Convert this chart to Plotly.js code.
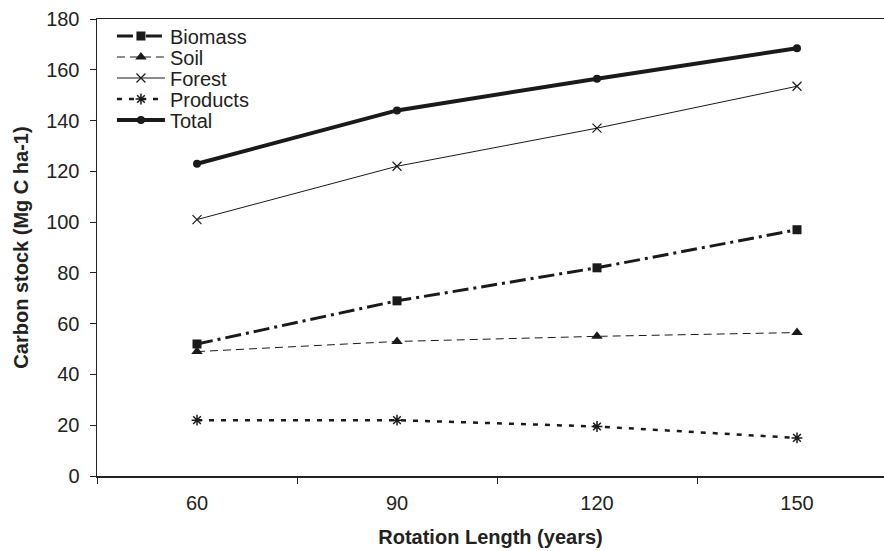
<!DOCTYPE html>
<html>
<head>
<meta charset="utf-8">
<script src="https://cdn.plot.ly/plotly-3.0.1.min.js"></script>
<style>html,body{margin:0;padding:0;background:#fff;}#chart{width:884px;height:551px;}</style>
</head>
<body>
<div id="chart"></div>
<script>
var rotation = ["60", "90", "120", "150"];
var biomass = [52, 69, 82, 97];
var soil = [49, 53, 55, 56.5];
var forest = [101, 122, 137, 153.5];
var products = [22, 22, 19.5, 15];
var total = [123, 144, 156.5, 168.5];

var FONT = "Liberation Sans, Arial, sans-serif";
var INK = "#1a1a1a";
var traces = [
  {name: "Biomass", legend: "legend", x: rotation, y: biomass, mode: "lines+markers",
   line: {color: INK, width: 3, dash: "16px,5px,3px,5px"},
   marker: {symbol: "square", size: 9, color: INK}},
  {name: "Soil", legend: "legend2", x: rotation, y: soil, mode: "lines+markers",
   line: {color: INK, width: 1, dash: "8px,5px"},
   marker: {symbol: "triangle-up", size: 10, color: INK}},
  {name: "Forest", legend: "legend3", x: rotation, y: forest, mode: "lines+markers",
   line: {color: INK, width: 1},
   marker: {symbol: "x-thin-open", size: 9, color: INK, line: {width: 1.2, color: INK}}},
  {name: "Products", legend: "legend4", x: rotation, y: products, mode: "lines+markers",
   line: {color: INK, width: 2.5, dash: "5px,7px"},
   marker: {symbol: "asterisk-open", size: 9, color: INK, line: {width: 1.5, color: INK}}},
  {name: "Total", legend: "legend5", x: rotation, y: total, mode: "lines+markers",
   line: {color: INK, width: 4},
   marker: {symbol: "circle", size: 8, color: INK}}
];

// one legend per entry so that rows can be spaced like the reference
var rowPx = [36, 57, 78, 99, 120];
function legendAt(py) {
  return {x: 0.019, y: (476 - py) / 457, xanchor: "left", yanchor: "middle",
          bgcolor: "rgba(0,0,0,0)", borderwidth: 0, itemwidth: 48,
          font: {family: FONT, size: 20, color: "#222"}};
}

var layout = {
  width: 884, height: 551,
  margin: {l: 97, r: 0, t: 19, b: 75},
  paper_bgcolor: "#fff", plot_bgcolor: "#fff",
  font: {family: FONT, size: 20, color: "#222"},
  showlegend: true,
  legend: legendAt(rowPx[0]),
  legend2: legendAt(rowPx[1]),
  legend3: legendAt(rowPx[2]),
  legend4: legendAt(rowPx[3]),
  legend5: legendAt(rowPx[4]),
  xaxis: {
    type: "category", range: [-0.5, 3.435],
    showline: true, linecolor: "#222", linewidth: 1.5, mirror: true,
    ticks: "outside", tickson: "boundaries", ticklen: 6, tickcolor: "#222", tickwidth: 1,
    ticklabelstandoff: 8,
    showgrid: false, zeroline: false,
    tickfont: {family: FONT, size: 20, color: "#222"},
    title: {text: "<b>Rotation Length (years)</b>", font: {family: FONT, size: 20, color: "#222"}, standoff: 17}
  },
  yaxis: {
    range: [0, 180], dtick: 20, tick0: 0,
    showline: true, linecolor: "#222", linewidth: 1.5,
    ticks: "outside", ticklen: 6, tickcolor: "#222", tickwidth: 1,
    ticklabelstandoff: 6,
    showgrid: false, zeroline: false,
    tickfont: {family: FONT, size: 20, color: "#222"},
    title: {text: "<b>Carbon stock (Mg C ha-1)</b>", font: {family: FONT, size: 20, color: "#222"}, standoff: 12}
  }
};

Plotly.newPlot("chart", traces, layout, {displayModeBar: false, staticPlot: true});
</script>
</body>
</html>
